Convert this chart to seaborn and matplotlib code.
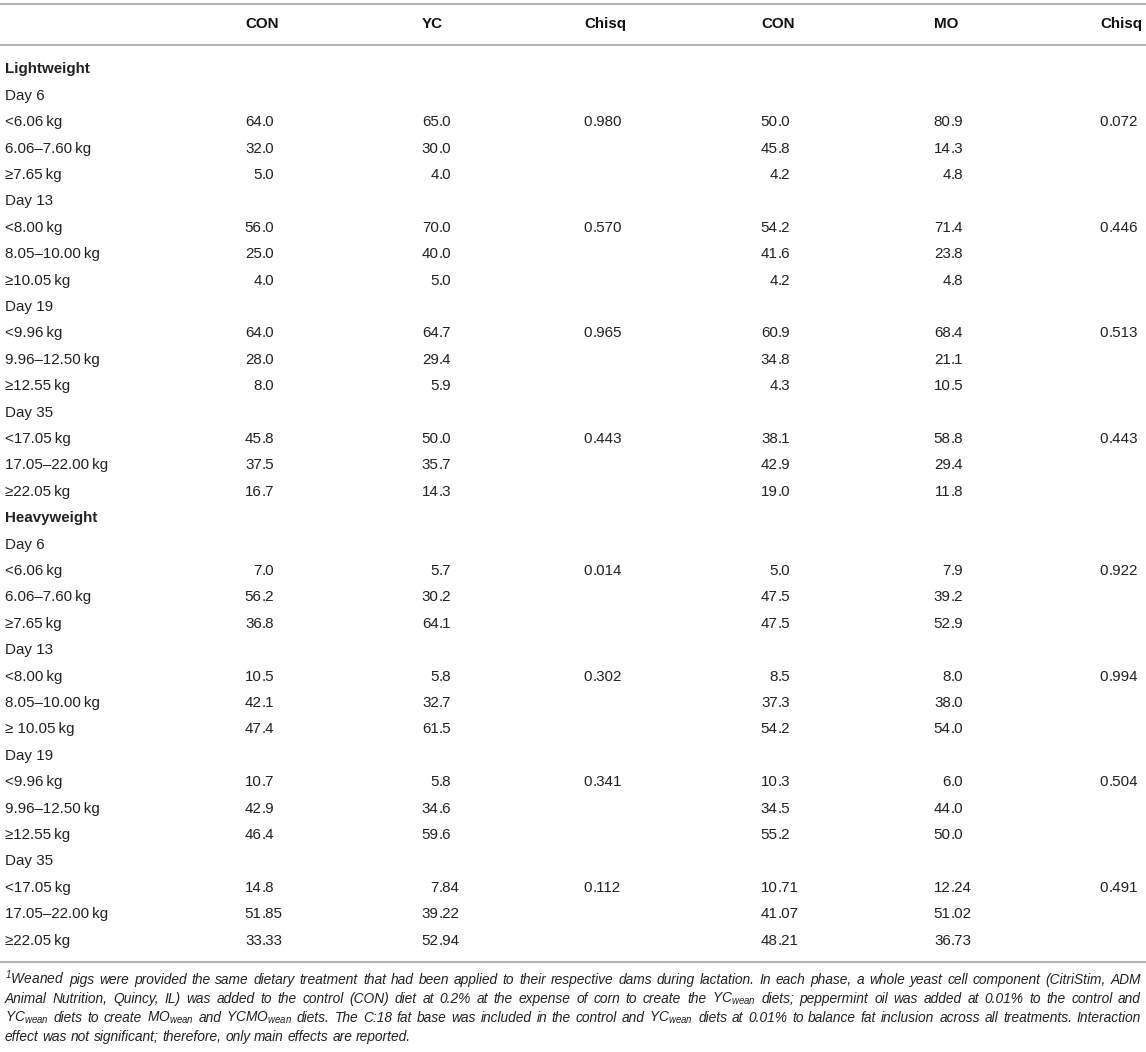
import matplotlib
matplotlib.use("Agg")
import matplotlib.pyplot as plt
import seaborn as sns

# columnas de la tabla
headers = ["CON", "YC", "Chisq", "CON", "MO", "Chisq"]

row_labels = [
    "Lightweight", "Day 6", "<6.06\u2009kg", "6.06\u20137.60\u2009kg", "\u22657.65\u2009kg",
    "Day 13", "<8.00\u2009kg", "8.05\u201310.00\u2009kg", "\u226510.05\u2009kg",
    "Day 19", "<9.96\u2009kg", "9.96\u201312.50\u2009kg", "\u226512.55\u2009kg",
    "Day 35", "<17.05\u2009kg", "17.05\u201322.00\u2009kg", "\u226522.05\u2009kg",
    "Heavyweight", "Day 6", "<6.06\u2009kg", "6.06\u20137.60\u2009kg", "\u22657.65\u2009kg",
    "Day 13", "<8.00\u2009kg", "8.05\u201310.00\u2009kg", "\u2265 10.05\u2009kg",
    "Day 19", "<9.96\u2009kg", "9.96\u201312.50\u2009kg", "\u226512.55\u2009kg",
    "Day 35", "<17.05\u2009kg", "17.05\u201322.00\u2009kg", "\u226522.05\u2009kg",
]
bold_rows = ["Lightweight", "Heavyweight"]

con_yc = [None, None, "64.0", "32.0", "5.0", None, "56.0", "25.0", "4.0",
          None, "64.0", "28.0", "8.0", None, "45.8", "37.5", "16.7",
          None, None, "7.0", "56.2", "36.8", None, "10.5", "42.1", "47.4",
          None, "10.7", "42.9", "46.4", None, "14.8", "51.85", "33.33"]
yc = [None, None, "65.0", "30.0", "4.0", None, "70.0", "40.0", "5.0",
      None, "64.7", "29.4", "5.9", None, "50.0", "35.7", "14.3",
      None, None, "5.7", "30.2", "64.1", None, "5.8", "32.7", "61.5",
      None, "5.8", "34.6", "59.6", None, "7.84", "39.22", "52.94"]
chisq_yc = [None, None, "0.980", None, None, None, "0.570", None, None,
            None, "0.965", None, None, None, "0.443", None, None,
            None, None, "0.014", None, None, None, "0.302", None, None,
            None, "0.341", None, None, None, "0.112", None, None]
con_mo = [None, None, "50.0", "45.8", "4.2", None, "54.2", "41.6", "4.2",
          None, "60.9", "34.8", "4.3", None, "38.1", "42.9", "19.0",
          None, None, "5.0", "47.5", "47.5", None, "8.5", "37.3", "54.2",
          None, "10.3", "34.5", "55.2", None, "10.71", "41.07", "48.21"]
mo = [None, None, "80.9", "14.3", "4.8", None, "71.4", "23.8", "4.8",
      None, "68.4", "21.1", "10.5", None, "58.8", "29.4", "11.8",
      None, None, "7.9", "39.2", "52.9", None, "8.0", "38.0", "54.0",
      None, "6.0", "44.0", "50.0", None, "12.24", "51.02", "36.73"]
chisq_mo = [None, None, "0.072", None, None, None, "0.446", None, None,
            None, "0.513", None, None, None, "0.443", None, None,
            None, None, "0.922", None, None, None, "0.994", None, None,
            None, "0.504", None, None, None, "0.491", None, None]

footnote = [
    "$^{1}$Weaned pigs were provided the same dietary treatment that had been applied to their "
    "respective dams during lactation. In each phase, a whole yeast cell component (CitriStim, ADM",
    "Animal Nutrition, Quincy, IL) was added to the control (CON) diet at 0.2% at the expense of corn "
    "to create the YC$_{wean}$ diets; peppermint oil was added at 0.01% to the control and",
    "YC$_{wean}$ diets to create MO$_{wean}$ and YCMO$_{wean}$ diets. The C:18 fat base was included "
    "in the control and YC$_{wean}$ diets at 0.01% to balance fat inclusion across all treatments. Interaction",
    "effect was not significant; therefore, only main effects are reported.",
]

sns.set_theme(style="white")
plt.rcParams["font.family"] = ["Liberation Sans", "DejaVu Sans"]
plt.rcParams["mathtext.fontset"] = "custom"
plt.rcParams["mathtext.it"] = "Liberation Sans:italic"
plt.rcParams["mathtext.rm"] = "Liberation Sans:italic"

W, H = 1146, 1052
fig = plt.figure(figsize=(W / 100, H / 100), dpi=100)
ax = fig.add_axes([0, 0, 1, 1])
ax.set_xlim(0, W)
ax.set_ylim(H, 0)
ax.axis("off")

txt = "#222222"
fs = 10.9
col_left = [245, 422, 584, 761, 934, 1100]
col_dec = [261.7, 438.7, 592.3, 777.7, 950.7, 1108.3]

# lineas horizontales
for y in [4, 45, 962]:
    ax.hlines(y, 0, W, color="#b5b5b5", lw=1.5)

for x, h in zip(col_left, headers):
    ax.text(x, 23 + 5.4, h, fontsize=fs, fontweight="bold", color="#111111", va="baseline", ha="left")

columnas = [con_yc, yc, chisq_yc, con_mo, mo, chisq_mo]
for i, lab in enumerate(row_labels):
    yb = 68 + 26.4 * i + 5.4
    peso = "bold" if lab in bold_rows else "normal"
    ax.text(5, yb, lab, fontsize=fs, fontweight=peso, color=txt, va="baseline", ha="left")
    for dx, col in zip(col_dec, columnas):
        v = col[i]
        if v is None:
            continue
        ent, dec = v.split(".")
        ax.text(dx, yb, ent, fontsize=fs, color=txt, va="baseline", ha="right")
        ax.text(dx, yb, "." + dec, fontsize=fs, color=txt, va="baseline", ha="left")

# nota al pie justificada
fs_nota = 9.9
r = fig.canvas.get_renderer()
x0, x1 = 5, 1141
for k, linea in enumerate(footnote):
    yb = 984 + 19 * k
    palabras = linea.split(" ")
    objs = [ax.text(0, yb, p, fontsize=fs_nota, fontstyle="italic", color=txt,
                    va="baseline", ha="left") for p in palabras]
    anchos = [o.get_window_extent(renderer=r).width for o in objs]
    if k < len(footnote) - 1:
        hueco = (x1 - x0 - sum(anchos)) / (len(palabras) - 1)
    else:
        hueco = 0.278 * fs_nota / 0.72
    x = x0
    for o, a in zip(objs, anchos):
        o.set_x(x)
        x += a + hueco

fig.savefig("out.png", dpi=100)
